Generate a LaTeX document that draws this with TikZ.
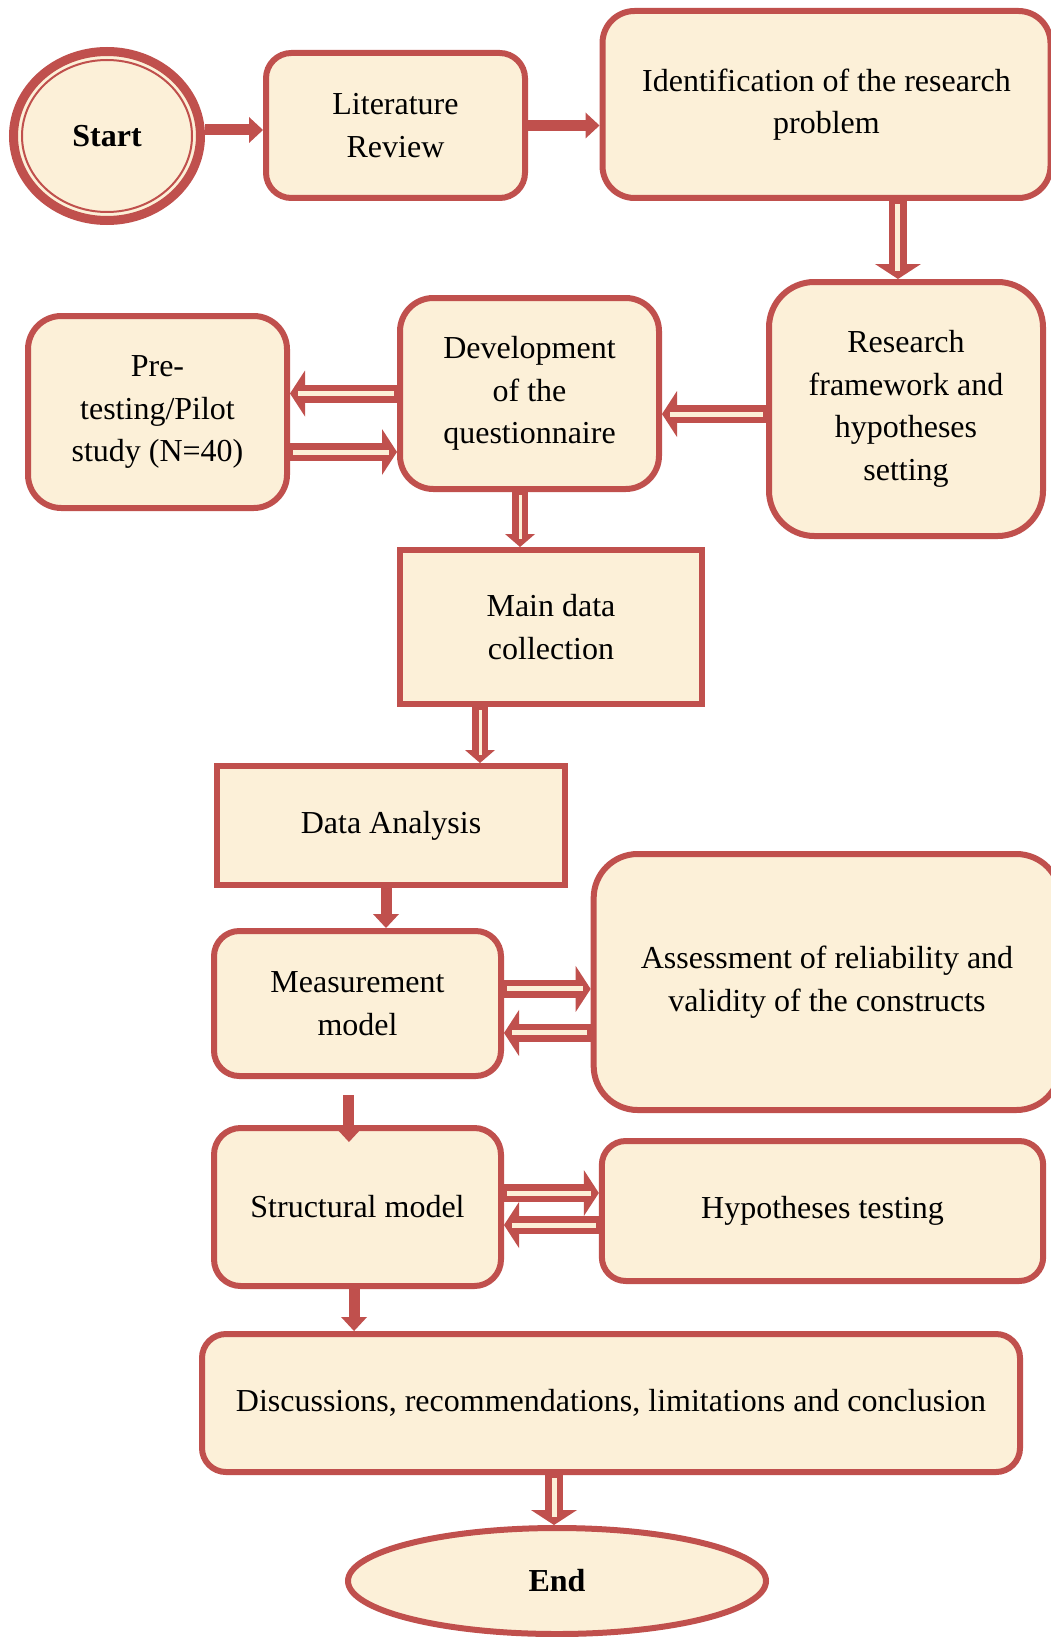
\documentclass[tikz,border=0pt]{standalone}
\usepackage{fontspec}
\setmainfont{Liberation Serif}
\usetikzlibrary{arrows.meta,shapes.geometric,calc}
\definecolor{brick}{RGB}{192,80,77}
\definecolor{parch}{RGB}{252,240,216}
\begin{document}
\begin{tikzpicture}[x=0.75pt,y=-0.75pt,
  base/.style={draw=brick, fill=parch, line width=4.5pt, align=center,
    inner sep=0pt, font=\fontsize{24}{32}\selectfont},
  rbox/.style={base, rectangle, rounded corners=#1},
  sbox/.style={base, rectangle},
  oval/.style={base, ellipse, font=\fontsize{24}{32}\selectfont\bfseries},
  solidarrow/.style={draw=brick, line width=8.25pt,
    -{Triangle[length=10.5pt,width=19.5pt,line width=0pt]}},
  dblarrow/.style={draw=brick, line width=13.5pt,
    -{Triangle[length=11.25pt,width=34.5pt,line width=0pt]},
    postaction={draw=parch, line width=3.75pt, arrows=-, shorten <=2.5pt, shorten >=6pt}},
  dblnarrow/.style={draw=brick, line width=12pt,
    -{Triangle[length=9.75pt,width=22.5pt,line width=0pt]},
    postaction={draw=parch, line width=2.25pt, arrows=-, shorten <=2.5pt, shorten >=6pt}}
]
\useasboundingbox (0,0) rectangle (1050,1637);
\fill[white] (0,0) rectangle (1050,1637);

% terminal ovals
\node[oval, line width=6.75pt, minimum width=140.25pt, minimum height=126.75pt] (start) at (107,136) {Start};
\draw[brick, line width=1.5pt] (start.center) ellipse [x radius=63.75pt, y radius=57pt];
\node[oval, minimum width=313.5pt, minimum height=79.5pt] (end) at (557,1581) {End};

% process boxes
\node[rbox=19pt, minimum width=194.25pt, minimum height=108.75pt] (lit) at (395.5,125.5) {Literature\\Review};
\node[rbox=24pt, minimum width=336pt, minimum height=140.25pt] (ident) at (826.5,104.5) {Identification of the research\\problem};
\node[rbox=34pt, minimum width=205.5pt, minimum height=190.5pt] (frame) at (906,409) {Research\\framework and\\hypotheses\\setting};
\node[rbox=25pt, minimum width=194.25pt, minimum height=143.25pt] (dev) at (529.5,393.5) {Development\\of the\\questionnaire};
\node[rbox=25pt, minimum width=194.25pt, minimum height=144pt] (pilot) at (157.5,412) {Pre-\\testing/Pilot\\study (N=40)};
\node[sbox, minimum width=226.5pt, minimum height=115.5pt] (collect) at (551,627) {Main data\\collection};
\node[sbox, minimum width=261pt, minimum height=89.25pt] (analysis) at (391,825.5) {Data Analysis};
\node[rbox=19pt, minimum width=215.25pt, minimum height=108.75pt] (meas) at (357.5,1003.5) {Measurement\\model};
\node[rbox=33pt, minimum width=350pt, minimum height=192pt] (assess) at (827,982) {Assessment of reliability and\\validity of the constructs};
\node[rbox=20pt, minimum width=215.25pt, minimum height=118.5pt] (struct) at (357.5,1207) {Structural model};
\node[rbox=18pt, minimum width=331pt, minimum height=105pt] (hyp) at (822.5,1211) {Hypotheses testing};
\node[rbox=18pt, minimum width=613.5pt, minimum height=103.5pt] (disc) at (611,1403) {Discussions, recommendations, limitations and conclusion};

% connector anchor points
\coordinate (a1) at ([yshift=4.5pt]start.east);
\coordinate (a3) at ([xshift=53.6pt]ident.south);
\coordinate (a4) at ([yshift=-3.75pt]frame.west);
\coordinate (a6) at ([yshift=-30pt]pilot.east);
\coordinate (a7) at ([xshift=-7.1pt]dev.south);
\coordinate (a8) at ([xshift=-53.25pt]collect.south);
\coordinate (a9) at ([xshift=-3.75pt]analysis.south);
\coordinate (a10) at ([yshift=10.9pt]meas.east);
\coordinate (a11) at ([yshift=-22.1pt]meas.east);
\coordinate (a12) at ([xshift=-6.4pt,yshift=-12pt]meas.south);
\coordinate (a13) at ([yshift=10.5pt]struct.east);
\coordinate (a14) at ([yshift=-13.5pt]struct.east);
\coordinate (a15) at ([xshift=-2.6pt]struct.south);
\coordinate (a16) at ([xshift=-42.75pt]disc.south);

% connectors
\draw[solidarrow] (a1) -- (a1 -| lit.west);
\draw[solidarrow] (lit.east) -- (lit.east -| ident.west);
\draw[dblarrow] (a3) -- (a3 |- frame.north);
\draw[dblarrow] (a4) -- (a4 -| dev.east);
\draw[dblarrow] (dev.west) -- (dev.west -| pilot.east);
\draw[dblarrow] (a6) -- (a6 -| dev.west);
\draw[dblnarrow] (a7) -- (a7 |- collect.north);
\draw[dblnarrow] (a8) -- (a8 |- analysis.north);
\draw[solidarrow] (a9) -- (a9 |- meas.north);
\draw[dblarrow] (a10) -- (a10 -| assess.west);
\draw[dblarrow] (a11 -| assess.west) -- (a11);
\draw[solidarrow] (a12) -- ($(a12 |- struct.north)+(0,17)$);
\draw[dblarrow] (a13) -- (a13 -| hyp.west);
\draw[dblarrow] (a14 -| hyp.west) -- (a14);
\draw[solidarrow] (a15) -- (a15 |- disc.north);
\draw[dblarrow] (a16) -- (a16 |- end.north);
\end{tikzpicture}
\end{document}
